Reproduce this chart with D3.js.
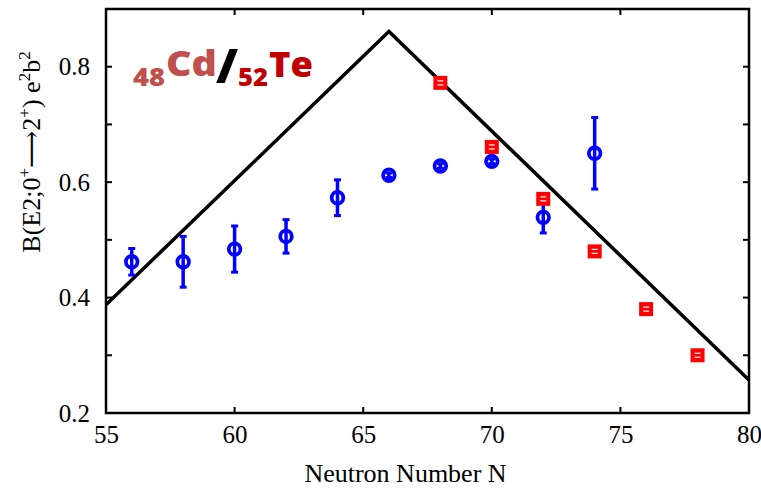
<!DOCTYPE html>
<html><head><meta charset="utf-8">
<script src="https://cdn.jsdelivr.net/npm/d3@7"></script>
<style>body{margin:0;background:#fff}svg{display:block}</style>
</head><body>
<svg id="c" width="761" height="489"></svg>
<script>
// ---- data ----
const lineN = [55, 66, 80];
const lineB = [0.3875, 0.861, 0.257];

const cdN   = [56, 58, 60, 62, 64, 66, 68, 70, 72, 74];
const cdB   = [0.462, 0.462, 0.484, 0.506, 0.573, 0.612, 0.628, 0.636, 0.539, 0.650];
const cdErr = [0.023, 0.044, 0.040, 0.029, 0.031, 0.004, 0.004, 0.004, 0.027, 0.062];

const teN   = [68, 70, 72, 74, 76, 78];
const teB   = [0.772, 0.661, 0.571, 0.480, 0.380, 0.300];
const teErr = [0.004, 0.004, 0.004, 0.004, 0.004, 0.004];

const xTicks = [55, 60, 65, 70, 75, 80];
const yTicks = [0.2, 0.3, 0.4, 0.5, 0.6, 0.7, 0.8, 0.9];
const yLabeled = [0.2, 0.4, 0.6, 0.8];

// ---- layout ----
const svg = d3.select("#c");
const L = 106, R = 749, T = 9, B = 413;
const x = d3.scaleLinear().domain([55, 80]).range([L, R]);
const y = d3.scaleLinear().domain([0.2, 0.9]).range([B, T]);
const serif = "'Liberation Serif','DejaVu Serif',serif";

// tick labels via axes
const xAx = svg.append("g").attr("transform", `translate(0,${B})`)
  .call(d3.axisBottom(x).tickValues(xTicks).tickSize(0).tickPadding(12).tickFormat(d3.format("d")));
xAx.select(".domain").remove();
xAx.selectAll("text").attr("font-family", serif).attr("font-size", 25).attr("fill", "#000").attr("dy", "0.71em");

const yAx = svg.append("g").attr("transform", `translate(${L},0)`)
  .call(d3.axisLeft(y).tickValues(yLabeled).tickSize(0).tickPadding(16).tickFormat(d3.format(".1f")));
yAx.select(".domain").remove();
yAx.selectAll("text").attr("font-family", serif).attr("font-size", 25).attr("fill", "#000");

// inward ticks on all sides
const tk = svg.append("g").attr("stroke", "#000").attr("stroke-width", 2);
xTicks.slice(1, -1).forEach(v => {
  tk.append("line").attr("x1", x(v)).attr("x2", x(v)).attr("y1", B).attr("y2", B - 6);
  tk.append("line").attr("x1", x(v)).attr("x2", x(v)).attr("y1", T).attr("y2", T + 6);
});
yTicks.slice(1, -1).forEach(v => {
  tk.append("line").attr("x1", L).attr("x2", L + 6).attr("y1", y(v)).attr("y2", y(v));
  tk.append("line").attr("x1", R).attr("x2", R - 6).attr("y1", y(v)).attr("y2", y(v));
});

// line
svg.append("path")
  .datum(lineN.map((n, i) => [n, lineB[i]]))
  .attr("d", d3.line().x(d => x(d[0])).y(d => y(d[1])))
  .attr("fill", "none").attr("stroke", "#000").attr("stroke-width", 3.5)
  .attr("stroke-linejoin", "miter");

// Cd (blue circles with error bars)
const blue = "#0000ff";
const gC = svg.append("g").attr("stroke", blue);
cdN.forEach((n, i) => {
  const cx = x(n), y1 = y(cdB[i] + cdErr[i]), y0 = y(cdB[i] - cdErr[i]);
  gC.append("line").attr("x1", cx).attr("x2", cx).attr("y1", y1).attr("y2", y0).attr("stroke-width", 3.5);
  gC.append("line").attr("x1", cx - 3.5).attr("x2", cx + 3.5).attr("y1", y1).attr("y2", y1).attr("stroke-width", 3);
  gC.append("line").attr("x1", cx - 3.5).attr("x2", cx + 3.5).attr("y1", y0).attr("y2", y0).attr("stroke-width", 3);
  gC.append("circle").attr("cx", cx).attr("cy", y(cdB[i])).attr("r", 5.8).attr("fill", "none").attr("stroke-width", 3.8);
});

// Te (red squares)
const gT = svg.append("g");
teN.forEach((n, i) => {
  const cx = x(n), cy = y(teB[i]);
  gT.append("rect").attr("x", cx - 7).attr("y", cy - 7).attr("width", 14).attr("height", 14).attr("fill", "#ff0000");
  [-2, 2].forEach(o => gT.append("line").attr("x1", cx - 3).attr("x2", cx + 3)
    .attr("y1", cy + o).attr("y2", cy + o).attr("stroke", "#fff").attr("stroke-width", 1.2));
});

// frame
svg.append("rect").attr("x", L).attr("y", T).attr("width", R - L).attr("height", B - T)
  .attr("fill", "none").attr("stroke", "#000").attr("stroke-width", 2.5);

// axis titles
svg.append("text").attr("x", (L + R) / 2 - 22).attr("y", 482).attr("text-anchor", "middle")
  .attr("font-family", serif).attr("font-size", 26).text("Neutron Number N");

const yl = svg.append("text").attr("transform", "translate(40,152) rotate(-90)")
  .attr("text-anchor", "middle").attr("font-family", serif).attr("font-size", 26);
yl.append("tspan").text("B(E2;0");
yl.append("tspan").attr("font-size", 17).attr("dy", -10).text("+");
yl.append("tspan").attr("dy", 10).text("\u27F62");
yl.append("tspan").attr("font-size", 17).attr("dy", -10).text("+");
yl.append("tspan").attr("dy", 10).text(") e");
yl.append("tspan").attr("font-size", 17).attr("dy", -10).text("2");
yl.append("tspan").attr("dy", 10).text("b");
yl.append("tspan").attr("font-size", 17).attr("dy", -10).text("2");

// title label
const sans = "'Open Sans','Liberation Sans',sans-serif";
const cdCol = "#c0504d", teCol = "#c00000";
const ttl = [
  {t: "48", x: 133, y: 86, s: 25, c: cdCol, w: 32},
  {t: "Cd", x: 166, y: 76, s: 35, c: cdCol, w: 51},
  {t: "/",  x: 216, y: 83, s: 48, c: "#000", w: 22},
  {t: "52", x: 238, y: 86, s: 25, c: teCol, w: 30},
  {t: "Te", x: 269, y: 77, s: 35, c: teCol, w: 44},
];
ttl.forEach(d => svg.append("text").attr("x", d.x).attr("y", d.y).attr("font-family", sans)
  .attr("font-weight", 800).attr("font-size", d.s).attr("fill", d.c)
  .attr("textLength", d.w).attr("lengthAdjust", "spacingAndGlyphs").text(d.t));
</script>
</body></html>
